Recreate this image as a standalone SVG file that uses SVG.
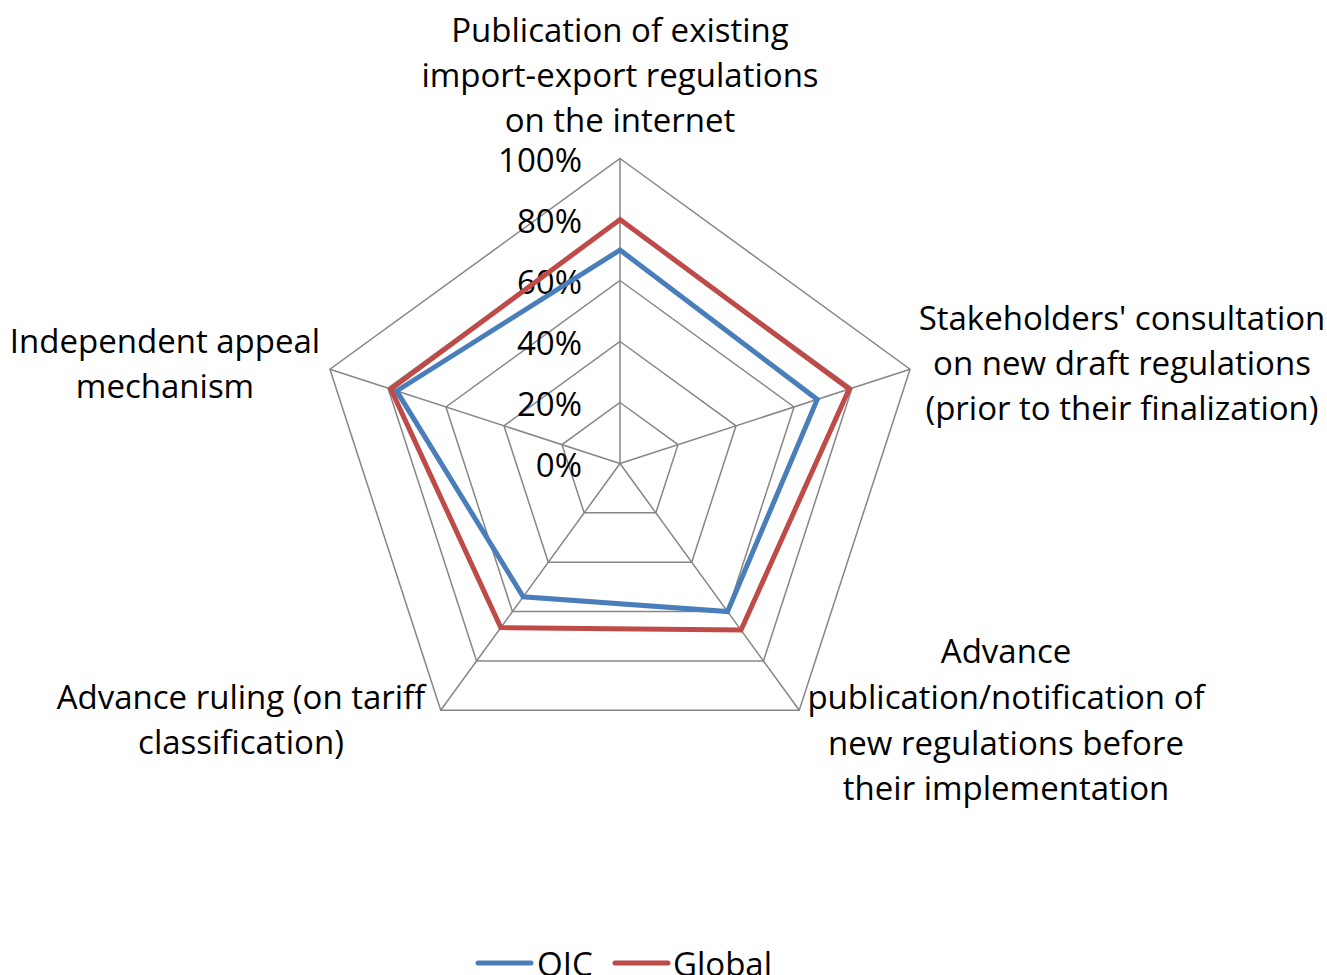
<svg xmlns="http://www.w3.org/2000/svg" width="1327" height="975" viewBox="0 0 1327 975">
<style>
.grid{fill:none;stroke:#868686;stroke-width:1.5}
.lbl{font-family:"Open Sans","Liberation Sans",sans-serif;font-size:33px;fill:#000}
.mid{text-anchor:middle}
.end{text-anchor:end}
.oic{fill:none;stroke:#4A7EBB;stroke-width:5;stroke-linejoin:miter}
.glb{fill:none;stroke:#BE4B48;stroke-width:5;stroke-linejoin:miter}
</style>
<rect width="1327" height="975" fill="#fff"/>
<g id="grid">
<polygon class="grid" points="620,402.5 678.01,444.65 655.85,512.85 584.15,512.85 561.99,444.65"/>
<polygon class="grid" points="620,341.5 736.03,425.8 691.71,562.2 548.29,562.2 503.97,425.8"/>
<polygon class="grid" points="620,280.5 794.04,406.95 727.56,611.55 512.44,611.55 445.96,406.95"/>
<polygon class="grid" points="620,219.5 852.06,388.1 763.42,660.9 476.58,660.9 387.94,388.1"/>
<polygon class="grid" points="620,158.5 910.07,369.25 799.27,710.25 440.73,710.25 329.93,369.25"/>
<path class="grid" d="M620,463.5L620,158.5M620,463.5L910.07,369.25M620,463.5L799.27,710.25M620,463.5L440.73,710.25M620,463.5L329.93,369.25"/>
</g>
<g id="axis-labels" class="lbl end">
<text x="582" y="171.5">100%</text>
<text x="582" y="232.5">80%</text>
<text x="582" y="293.5">60%</text>
<text x="582" y="354.5">40%</text>
<text x="582" y="415.5">20%</text>
<text x="582" y="476.5">0%</text>
</g>
<g id="series-oic">
<polygon class="oic" points="620,250 817.25,399.41 727.56,611.55 523.19,596.74 396.64,390.93"/>
</g>
<g id="series-global">
<polygon class="glb" points="620,219.5 849.16,389.04 741.01,630.06 500.78,627.59 390.84,389.04"/>
</g>
<g id="cat-top" class="lbl mid">
<text x="620" y="42">Publication of existing</text>
<text x="620" y="87">import-export regulations</text>
<text x="620" y="132">on the internet</text>
</g>
<g id="cat-right" class="lbl mid">
<text x="1122" y="330">Stakeholders' consultation</text>
<text x="1122" y="375">on new draft regulations</text>
<text x="1122" y="420">(prior to their finalization)</text>
</g>
<g id="cat-bottom-right" class="lbl mid">
<text x="1006" y="663">Advance</text>
<text x="1006" y="709">publication/notification of</text>
<text x="1006" y="755">new regulations before</text>
<text x="1006" y="800">their implementation</text>
</g>
<g id="cat-bottom-left" class="lbl mid">
<text x="241" y="709">Advance ruling (on tariff</text>
<text x="241" y="754">classification)</text>
</g>
<g id="cat-left" class="lbl mid">
<text x="165" y="353">Independent appeal</text>
<text x="165" y="398">mechanism</text>
</g>
<g id="legend">
<line x1="478" y1="963" x2="531" y2="963" stroke="#4A7EBB" stroke-width="5" stroke-linecap="round"/>
<text class="lbl" x="537" y="976">OIC</text>
<line x1="615" y1="963" x2="668" y2="963" stroke="#BE4B48" stroke-width="5" stroke-linecap="round"/>
<text class="lbl" x="673" y="976">Global</text>
</g>
</svg>
